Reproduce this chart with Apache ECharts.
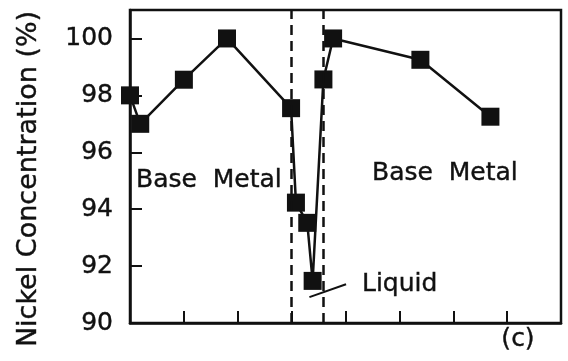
<!DOCTYPE html>
<html>
<head>
<meta charset="utf-8">
<script src="https://cdn.jsdelivr.net/npm/echarts@6/dist/echarts.min.js"></script>
<style>
  html, body { margin: 0; padding: 0; background: #fff; }
  #chart { width: 568px; height: 361px; }
</style>
</head>
<body>
<div id="chart"></div>
<script>
// Position along the traverse (axis units) and measured nickel content (%)
const distance = [0, 0.19, 1.0, 1.8, 2.99, 3.08, 3.29, 3.39, 3.59, 3.77, 5.39, 6.69];
const nickel   = [98.0, 97.0, 98.55, 100.0, 97.55, 94.23, 93.52, 91.48, 98.56, 100.0, 99.25, 97.25];
// Edges of the former liquid zone
const zoneBounds = [3.0, 3.59];
// Nickel axis ticks
const yTicks = [90, 92, 94, 96, 98, 100];
const yTop = 101;
const xRange = [0, 8];

const FONT = 'DejaVu Sans';
const INK = '#111';
const W = 2.5;

const chart = echarts.init(document.getElementById('chart'), null, { renderer: 'canvas' });

const points = distance.map((d, i) => [d, nickel[i]]);

function label(text, x, y, size, align) {
  return {
    type: 'text', x: x, y: y,
    style: { text: text, fill: INK, font: size + 'px "' + FONT + '"',
             textAlign: align || 'left', textVerticalAlign: 'middle',
             stroke: INK, lineWidth: 0.4 }
  };
}

chart.setOption({
  backgroundColor: '#fff',
  animation: false,
  grid: {
    left: 130, top: 10, right: 7, bottom: 38,
    show: true, borderColor: INK, borderWidth: W, backgroundColor: 'transparent'
  },
  xAxis: {
    type: 'value',
    min: xRange[0], max: xRange[1], interval: 1,
    axisLine: { show: true, lineStyle: { color: INK, width: W } },
    axisTick: { show: true, inside: true, length: 12, lineStyle: { color: INK, width: 2 } },
    axisLabel: { show: false },
    splitLine: { show: false }
  },
  yAxis: {
    type: 'value',
    min: yTicks[0], max: yTop, interval: yTicks[1] - yTicks[0],
    axisLine: { show: true, lineStyle: { color: INK, width: W } },
    axisTick: { show: true, inside: true, length: 12, lineStyle: { color: INK, width: 2 } },
    axisLabel: {
      showMaxLabel: false, margin: 17,
      color: INK, fontFamily: FONT, fontSize: 25,
      textBorderColor: INK, textBorderWidth: 0.4
    },
    splitLine: { show: false }
  },
  series: [{
    type: 'line',
    data: points,
    clip: false,
    symbol: 'rect',
    symbolSize: 18,
    itemStyle: { color: INK },
    lineStyle: { color: INK, width: W },
    markLine: {
      silent: true,
      symbol: 'none',
      label: { show: false },
      data: [
        ...zoneBounds.map(b => ({ xAxis: b, lineStyle: { color: INK, width: W, type: [10, 6] } })),
        [
          { coord: [3.33, 90.91], lineStyle: { color: INK, width: 2, type: 'solid' } },
          { coord: [4.01, 91.36] }
        ]
      ]
    }
  }],
  graphic: [
    {
      type: 'text', x: 29, y: 179, rotation: Math.PI / 2,
      style: { x: 0, y: 0, text: 'Nickel Concentration (%)', fill: INK,
               font: '27px "' + FONT + '"', textAlign: 'center', textVerticalAlign: 'middle',
               stroke: INK, lineWidth: 0.4 }
    },
    label('Base  Metal', 136, 180, 25),
    label('Base  Metal', 372, 173, 25),
    label('Liquid', 362, 284, 25),
    label('(c)', 518, 339, 25, 'center')
  ]
});
</script>
</body>
</html>
